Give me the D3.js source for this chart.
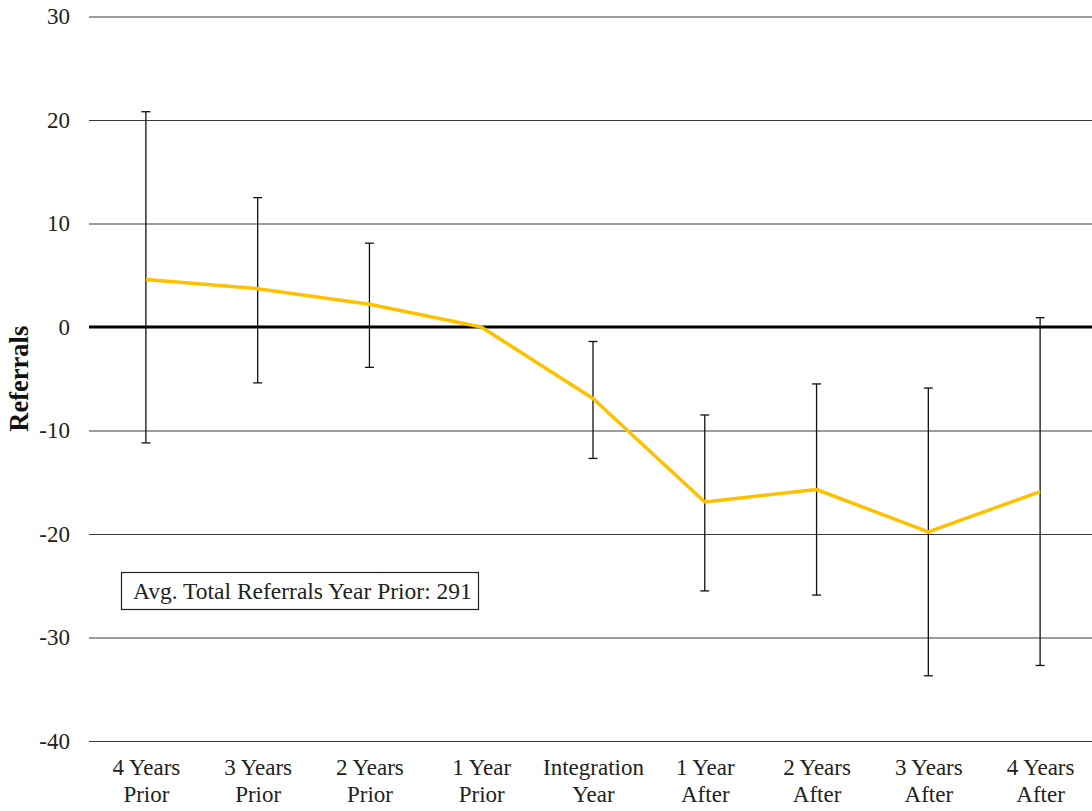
<!DOCTYPE html>
<html>
<head>
<meta charset="utf-8">
<script src="https://cdn.jsdelivr.net/npm/d3@7"></script>
<style>
  body { margin: 0; background: #fff; }
  svg { display: block; }
  svg text { font-family: 'Liberation Serif', Tinos, Times, serif; }
</style>
</head>
<body>
<div id="chart"></div>
<script>
// categories (two-line labels)
const categories = [
  ["4 Years", "Prior"], ["3 Years", "Prior"], ["2 Years", "Prior"], ["1 Year", "Prior"],
  ["Integration", "Year"], ["1 Year", "After"], ["2 Years", "After"], ["3 Years", "After"], ["4 Years", "After"]
];
const values = [4.6, 3.7, 2.2, 0, -6.9, -16.9, -15.7, -19.8, -15.9];
const errHigh = [20.8, 12.5, 8.1, null, -1.4, -8.5, -5.5, -5.9, 0.9];
const errLow = [-11.2, -5.4, -3.9, null, -12.7, -25.5, -25.9, -33.7, -32.7];
const yTicks = [30, 20, 10, 0, -10, -20, -30, -40];
const note = "Avg. Total Referrals Year Prior: 291";

const W = 1092, H = 811;
const plotLeft = 89, plotTop = 16.5, plotBottom = 741;
const FONT = "'Liberation Serif', Tinos, Times, serif";
const keys = categories.map(c => c.join(" "));

const svg = d3.select("#chart").append("svg").attr("width", W).attr("height", H)
  .style("font-family", FONT);

const x = d3.scalePoint().domain(keys).range([90, 1096]).padding(0.5);
const y = d3.scaleLinear().domain([-40, 30]).range([plotBottom, plotTop]);

// y axis with gridlines
const yAxis = d3.axisLeft(y).tickValues(yTicks).tickFormat(d => String(d))
  .tickSize(-(W - plotLeft)).tickPadding(19);
const gy = svg.append("g").attr("transform", `translate(${plotLeft},0)`).call(yAxis)
  .attr("font-family", null);
gy.select(".domain").remove();
gy.selectAll(".tick line").attr("stroke", "#3a3a3a").attr("stroke-width", 1.2);
gy.selectAll(".tick text").attr("fill", "#222")
  .style("font-family", FONT).style("font-size", "23px");

// zero line
svg.append("line")
  .attr("x1", plotLeft).attr("x2", W)
  .attr("y1", y(0)).attr("y2", y(0))
  .attr("stroke", "#000").attr("stroke-width", 3.2);

// x axis labels
const xAxis = d3.axisBottom(x).tickSize(0).tickPadding(0);
const gx = svg.append("g").attr("transform", `translate(0,${plotBottom})`).call(xAxis)
  .attr("font-family", null);
gx.select(".domain").remove();
gx.selectAll(".tick text").each(function (d, i) {
  const t = d3.select(this).text(null).attr("fill", "#222")
    .style("font-family", FONT).style("font-size", "23px")
    .attr("y", 0).attr("dy", null);
  categories[i].forEach((s, j) => {
    t.append("tspan").attr("x", 0).attr("y", 34 + j * 27).text(s);
  });
});

// error bars
const eb = svg.append("g");
keys.forEach((k, i) => {
  if (errHigh[i] == null) return;
  const cx = x(k);
  eb.append("line").attr("x1", cx).attr("x2", cx).attr("y1", y(errHigh[i])).attr("y2", y(errLow[i]))
    .attr("stroke", "#111").attr("stroke-width", 1.3);
  [errHigh[i], errLow[i]].forEach(v => {
    eb.append("line").attr("x1", cx - 4.5).attr("x2", cx + 4.5).attr("y1", y(v)).attr("y2", y(v))
      .attr("stroke", "#111").attr("stroke-width", 1.3);
  });
});

// line
const line = d3.line().x((d, i) => x(keys[i])).y(d => y(d));
svg.append("path").datum(values)
  .attr("d", line)
  .attr("fill", "none")
  .attr("stroke", "#FFC000")
  .attr("stroke-width", 3.5)
  .attr("stroke-linejoin", "round");

// annotation box
svg.append("rect").attr("x", 121.5).attr("y", 572.5).attr("width", 357).attr("height", 37)
  .attr("fill", "#fff").attr("stroke", "#222").attr("stroke-width", 1.2);
svg.append("text").attr("x", 133).attr("y", 599).attr("fill", "#222")
  .style("font-family", FONT).style("font-size", "23.5px").text(note);

// y title
svg.append("text")
  .attr("transform", `translate(28,${(plotTop + plotBottom) / 2}) rotate(-90)`)
  .attr("text-anchor", "middle")
  .style("font-family", FONT).style("font-size", "26.5px")
  .attr("font-weight", "bold")
  .attr("fill", "#111")
  .text("Referrals");
</script>
</body>
</html>
